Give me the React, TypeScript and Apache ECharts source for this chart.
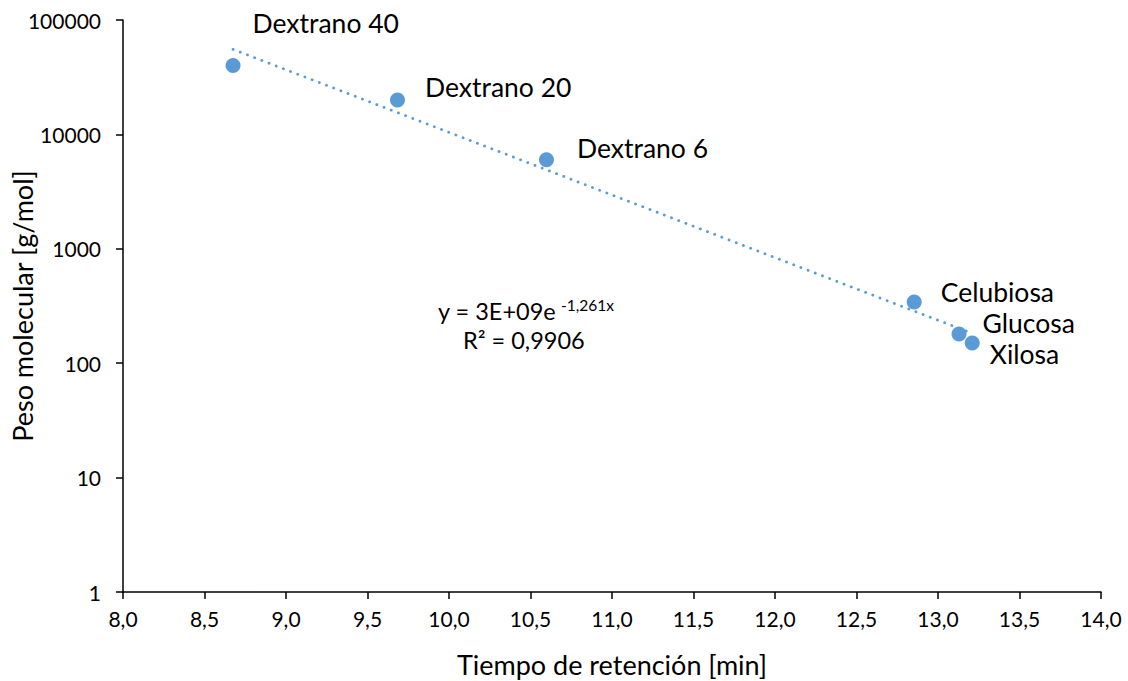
import React, { useEffect, useRef } from "react";
import * as echarts from "echarts";

const names = ["Dextrano 40", "Dextrano 20", "Dextrano 6", "Celubiosa", "Glucosa", "Xilosa"];
const retentionTimes = [8.675, 9.684, 10.598, 12.854, 13.129, 13.21];
const molecularWeights = [40000, 20000, 6000, 342, 180, 150];
const labelOffsets: [number, number][] = [
  [7, -43],
  [15, -13],
  [18, -12],
  [14, -10],
  [11, -11],
  [5, 11],
];
const equationText = "y = 3E+09e";
const equationExponent = "-1,261x";
const r2Text = "R² = 0,9906";
const xTitle = "Tiempo de retención [min]";
const yTitle = "Peso molecular [g/mol]";

const FONT = "Lato";
const BLUE = "#5B9BD5";

function expFit(xs: number[], ys: number[]) {
  const ly = ys.map((v) => Math.log(v));
  const n = xs.length;
  const mx = xs.reduce((a, b) => a + b, 0) / n;
  const my = ly.reduce((a, b) => a + b, 0) / n;
  let sxy = 0;
  let sxx = 0;
  for (let i = 0; i < n; i++) {
    sxy += (xs[i] - mx) * (ly[i] - my);
    sxx += (xs[i] - mx) * (xs[i] - mx);
  }
  const b = sxy / sxx;
  const a = Math.exp(my - b * mx);
  return { a, b };
}

export default function App() {
  const ref = useRef<HTMLDivElement>(null);
  useEffect(() => {
    if (!ref.current) return;
    const chart = echarts.init(ref.current, undefined, { renderer: "svg" });
    const fit = expFit(retentionTimes, molecularWeights);
    const xMin = Math.min(...retentionTimes);
    const xMax = Math.max(...retentionTimes);
    const trend = [xMin, xMax].map((x) => [x, fit.a * Math.exp(fit.b * x)]);

    chart.setOption({
      animation: false,
      backgroundColor: "#ffffff",
      textStyle: { fontFamily: FONT },
      grid: {
        left: 123,
        right: 27,
        top: 20,
        bottom: 89,
        containLabel: false,
        outerBoundsMode: "none",
      },
      xAxis: {
        type: "value",
        min: 8,
        max: 14,
        interval: 0.5,
        name: xTitle,
        nameLocation: "middle",
        nameGap: 59,
        nameMoveOverlap: false,
        nameTextStyle: { fontSize: 27, color: "#000", fontFamily: FONT },
        axisLine: { show: true, onZero: false, lineStyle: { color: "#000", width: 1.5 } },
        axisTick: { show: true, inside: false, length: 7, lineStyle: { color: "#000", width: 1.5 } },
        axisLabel: {
          fontSize: 21,
          color: "#000",
          fontFamily: FONT,
          margin: 16,
          formatter: (v: number) => v.toFixed(1).replace(".", ","),
        },
        splitLine: { show: false },
      },
      yAxis: {
        type: "log",
        logBase: 10,
        min: 1,
        max: 100000,
        name: yTitle,
        nameLocation: "middle",
        nameGap: 87,
        nameMoveOverlap: false,
        nameRotate: 90,
        nameTextStyle: { fontSize: 27, color: "#000", fontFamily: FONT },
        axisLine: { show: true, onZero: false, lineStyle: { color: "#000", width: 1.5 } },
        axisTick: { show: true, inside: false, length: 7, lineStyle: { color: "#000", width: 1.5 } },
        minorTick: { show: false },
        axisLabel: {
          fontSize: 21,
          color: "#000",
          fontFamily: FONT,
          margin: 22,
          formatter: (v: number) => String(Math.round(v)),
        },
        splitLine: { show: false },
      },
      series: [
        {
          type: "line",
          data: trend,
          showSymbol: false,
          symbol: "none",
          lineStyle: { color: BLUE, width: 2.8, type: [0.1, 7.6], cap: "round", opacity: 1 },
          silent: true,
          z: 1,
        },
        {
          type: "scatter",
          symbol: "circle",
          symbolSize: 15,
          itemStyle: { color: BLUE, opacity: 1 },
          z: 2,
          data: retentionTimes.map((x, i) => ({
            value: [x, molecularWeights[i]],
            name: names[i],
            label: {
              show: true,
              position: "right",
              distance: 5,
              offset: labelOffsets[i],
              formatter: names[i],
              fontSize: 26.5,
              color: "#000",
              fontFamily: FONT,
            },
          })),
        },
      ],
      graphic: [
        {
          type: "text",
          left: 438,
          top: 299,
          style: { text: equationText, fontSize: 23.5, fill: "#000", fontFamily: FONT },
        },
        {
          type: "text",
          left: 561,
          top: 297,
          style: { text: equationExponent, fontSize: 15.5, fill: "#000", fontFamily: FONT },
        },
        {
          type: "text",
          left: 463,
          top: 328,
          style: { text: r2Text, fontSize: 23.5, fill: "#000", fontFamily: FONT },
        },
      ],
    });
    return () => chart.dispose();
  }, []);
  return (
    <div
      ref={ref}
      style={{ position: "fixed", left: 0, top: 0, width: 1128, height: 681, background: "#fff" }}
    />
  );
}
